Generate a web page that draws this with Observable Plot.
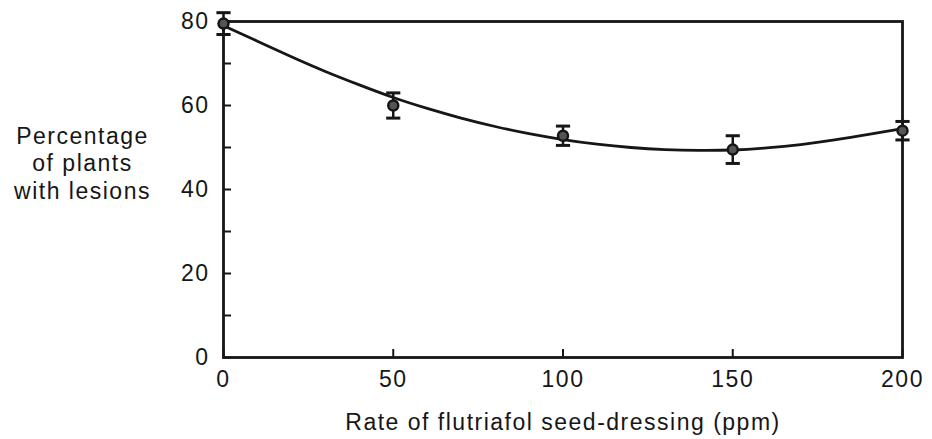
<!DOCTYPE html>
<html><head><meta charset="utf-8">
<script src="https://cdn.jsdelivr.net/npm/d3@7"></script>
<script src="https://cdn.jsdelivr.net/npm/@observablehq/plot@0.6"></script>
<style>body{margin:0;background:#fff}</style>
</head><body><div id="chart"></div>
<script>
const doses = [0, 50, 100, 150, 200];
const meanPct = [79.5, 60, 52.8, 49.5, 54];
const errPct = [2.6, 3, 2.3, 3.3, 2.2];
const curveDose = [0, 10, 20, 30, 40, 50, 60, 70, 80, 90, 100, 110, 120, 130, 140, 150, 160, 170, 180, 190, 200];
const curvePct = [79, 75.3, 71.6, 68.1, 64.9, 61.9, 59.3, 57.0, 55.0, 53.3, 51.9, 50.8, 50.0, 49.5, 49.3, 49.4, 49.9, 50.7, 51.8, 53.1, 54.5];
const xTicks = [0, 50, 100, 150, 200];
const yTicks = [0, 20, 40, 60, 80];
const yMinorTicks = [0, 10, 20, 30, 40, 50, 60, 70, 80];
const xLabel = "Rate of flutriafol seed-dressing (ppm)";
const yLabel = "Percentage\nof plants\nwith lesions";

const points = doses.map((d, i) => ({dose: d, pct: meanPct[i], lo: meanPct[i] - errPct[i], hi: meanPct[i] + errPct[i]}));
const curve = curveDose.map((d, i) => ({dose: d, pct: curvePct[i]}));
const cap = {draw(ctx, size) { const w = Math.sqrt(size); ctx.moveTo(-w, 0); ctx.lineTo(w, 0); }};
const ink = "#161616";

const W = 932, H = 439, mL = 223, mR = 30, mT = 21, mB = 82;
const chart = Plot.plot({
  width: W, height: H,
  marginLeft: mL, marginRight: mR, marginTop: mT, marginBottom: mB,
  style: {fontFamily: "'Liberation Sans', Arial, sans-serif", fontSize: "23px", letterSpacing: "1.5px", color: ink, background: "#fff"},
  x: {domain: [0, 200]},
  y: {domain: [0, 80]},
  marks: [
    Plot.tickY(yMinorTicks, {y: d => d, insetRight: (W - mL - mR) - 8, stroke: ink, strokeWidth: 2}),
    Plot.tickX(xTicks, {x: d => d, insetTop: (H - mT - mB) - 8, stroke: ink, strokeWidth: 2}),
    Plot.frame({stroke: ink, strokeWidth: 2.8}),
    Plot.axisY({ticks: yTicks, tickSize: 0, tickPadding: 14, label: null}),
    Plot.axisX({ticks: xTicks, tickSize: 0, tickPadding: 13, label: null}),
    Plot.text([xLabel], {frameAnchor: "bottom", dy: 56, textAnchor: "middle", lineAnchor: "top", fontSize: 23}),
    Plot.text([yLabel], {frameAnchor: "left", dx: -141, dy: -27, textAnchor: "middle", lineAnchor: "middle", lineHeight: 1.2, fontSize: 23}),
    Plot.line(curve, {x: "dose", y: "pct", curve: "natural", stroke: ink, strokeWidth: 2.8}),
    Plot.ruleX(points, {x: "dose", y1: "lo", y2: "hi", stroke: ink, strokeWidth: 2.5}),
    Plot.dot(points, {x: "dose", y: "lo", symbol: cap, r: 4, stroke: ink, strokeWidth: 3}),
    Plot.dot(points, {x: "dose", y: "hi", symbol: cap, r: 4, stroke: ink, strokeWidth: 3}),
    Plot.dot(points, {x: "dose", y: "pct", r: 5, fill: "#555", stroke: ink, strokeWidth: 2.5})
  ]
});
document.getElementById("chart").append(chart);
</script>
</body></html>
